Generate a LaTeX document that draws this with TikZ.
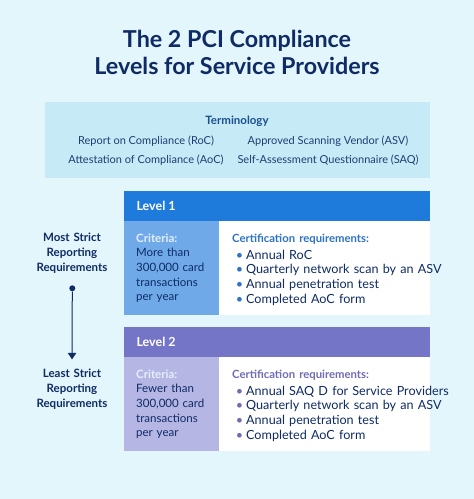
\documentclass[tikz,border=0pt]{standalone}
\usepackage{fontspec}
\setmainfont{Lato}
\usetikzlibrary{positioning, arrows.meta}
\definecolor{bgcyan}{HTML}{E3F6FB}
\definecolor{termblue}{HTML}{C6EAF6}
\definecolor{navy}{HTML}{0F2B66}
\definecolor{termnavy}{HTML}{1F3D73}
\definecolor{termhead}{HTML}{1B4F8F}
\definecolor{levelblue}{HTML}{1E7BDC}
\definecolor{critblue}{HTML}{6FA9E8}
\definecolor{certblue}{HTML}{2D72C8}
\definecolor{levelpurple}{HTML}{7575C7}
\definecolor{critpurple}{HTML}{B5B6E3}
\definecolor{certpurple}{HTML}{6F6BB5}
\definecolor{critlabel}{HTML}{E4EFFC}
\tikzset{
	titletext/.style={font=\bfseries\fontsize{23.3}{27}\selectfont, text=navy, align=center},
	termtext/.style={font=\fontsize{11}{19}\selectfont, text=termnavy, anchor=base},
	termhd/.style={font=\bfseries\fontsize{11.5}{13}\selectfont, text=termhead, anchor=base},
	levelhead/.style={font=\bfseries\fontsize{12.5}{14}\selectfont, text=white, anchor=base west, inner sep=0pt},
	crittext/.style={font=\fontsize{11.5}{14.7}\selectfont, text=navy, anchor=base west, inner sep=0pt, text width=80pt, align=left},
	certtext/.style={font=\fontsize{12.6}{14.7}\selectfont, text=navy, anchor=base west, inner sep=0pt, text width=260pt, align=left},
	sidetext/.style={font=\bfseries\fontsize{11.5}{15}\selectfont, text=navy, align=center, anchor=base, text width=90pt},
	startdot/.style={circle, fill=navy, inner sep=0pt, minimum size=6pt},
	strictline/.style={navy, line width=1pt, shorten >=6pt, -{Triangle[width=8.3pt,length=6.5pt]}}
}
\newcommand{\certitem}[2]{\hspace*{3.6pt}\makebox[10.4pt][l]{\textcolor{#1}{\textbullet}}#2}
\newcommand{\certhead}[1]{{\color{#1}\bfseries\fontsize{11.3}{14.7}\selectfont Certification requirements:}}

\begin{document}
\begin{tikzpicture}[x=1pt, y=-1pt]
\useasboundingbox (0,0) rectangle (474,499);
\fill [bgcyan] (0,0) rectangle (474,499);
% title
\node [titletext, anchor=base] (title1) at (237,47) {The 2 PCI Compliance};
\node [titletext, anchor=base] (title2) at (237,74) {Levels for Service Providers};
% terminology box
\fill [termblue] (45,102) rectangle (430,178);
\node [termhd] (termhead) at (237,124) {Terminology};
\node [termtext] (roc) at (146,144) {Report on Compliance (RoC)};
\node [termtext] (aoc) at (146,163) {Attestation of Compliance (AoC)};
\node [termtext] (asv) at (328,144) {Approved Scanning Vendor (ASV)};
\node [termtext] (saq) at (328,163) {Self-Assessment Questionnaire (SAQ)};
% level 1
\coordinate (l1) at (124,191);
\fill [levelblue] (l1) rectangle (430,221);
\fill [critblue] (124,221) rectangle (219,315);
\fill [white] (219,221) rectangle (430,315);
\node [levelhead] (lev1) at (136.3,210.7) {Level 1};
\node [crittext] (crit1) at (136,242) {\textcolor{critlabel}{\bfseries Criteria:}\\More than\\300,000 card\\transactions\\per year};
\node [certtext] (cert1) at (232,242) {\certhead{certblue}\\[2.3pt]
	\certitem{certblue}{Annual RoC}\\
	\certitem{certblue}{Quarterly network scan by an ASV}\\
	\certitem{certblue}{Annual penetration test}\\
	\certitem{certblue}{Completed AoC form}};
% level 2
\coordinate (l2) at (124,327);
\fill [levelpurple] (l2) rectangle (430,357);
\fill [critpurple] (124,357) rectangle (219,451);
\fill [white] (219,357) rectangle (430,451);
\node [levelhead] (lev2) at (136.3,346.7) {Level 2};
\node [crittext] (crit2) at (136,378) {\textcolor{critlabel}{\bfseries Criteria:}\\Fewer than\\300,000 card\\transactions\\per year};
\node [certtext] (cert2) at (232,378) {\certhead{certpurple}\\[2.3pt]
	\certitem{certpurple}{Annual SAQ D for Service Providers}\\
	\certitem{certpurple}{Quarterly network scan by an ASV}\\
	\certitem{certpurple}{Annual penetration test}\\
	\certitem{certpurple}{Completed AoC form}};
% strictness scale
\node [sidetext] (most) at (72,241.5) {Most Strict\\Reporting\\Requirements};
\node [sidetext] (least) at (72,377.5) {Least Strict\\Reporting\\Requirements};
\node [startdot] (top) at (72.3,288.3) {};
\draw [strictline] (top) -- (least.north);
\end{tikzpicture}
\end{document}
